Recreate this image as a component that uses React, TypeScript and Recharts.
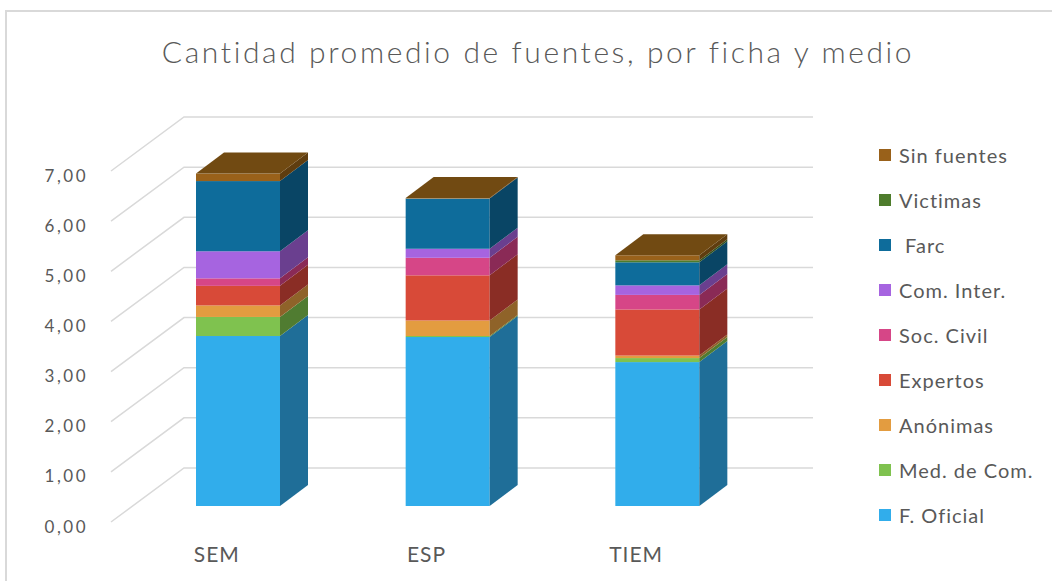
import { Bar, BarChart, CartesianGrid, XAxis, YAxis } from 'recharts'

const CATEGORIES = ['SEM', 'ESP', 'TIEM']
const SERIES_NAMES = [
  'F. Oficial',
  'Med. de Com.',
  'Anónimas',
  'Expertos',
  'Soc. Civil',
  'Com. Inter.',
  ' Farc',
  'Victimas',
  'Sin fuentes',
]
const F_OFICIAL = [3.39, 3.37, 2.87]
const MED_COM = [0.38, 0.02, 0.08]
const ANONIMAS = [0.23, 0.31, 0.05]
const EXPERTOS = [0.39, 0.9, 0.92]
const SOC_CIVIL = [0.15, 0.35, 0.29]
const COM_INTER = [0.54, 0.18, 0.19]
const FARC = [1.4, 1.0, 0.46]
const VICTIMAS = [0, 0, 0.04]
const SIN_FUENTES = [0.15, 0.01, 0.1]
const Y_TICKS = [0, 1, 2, 3, 4, 5, 6, 7]

const SERIES_VALUES = [F_OFICIAL, MED_COM, ANONIMAS, EXPERTOS, SOC_CIVIL, COM_INTER, FARC, VICTIMAS, SIN_FUENTES]

// front face / side face colours, same order as SERIES_NAMES
const FRONT = ['#31ADEB', '#7FC24F', '#E39C40', '#D84A38', '#D64687', '#A664E0', '#0E6C9B', '#4E7C2C', '#99611A']
const SIDE = ['#1F6E98', '#507C31', '#8F6329', '#8A2D25', '#8A2A56', '#6A3F8F', '#094565', '#32501C', '#5F3D0F']
const TOP_FACE = '#714A12'

const GRID = '#d9d9d9'
const TEXT = '#595959'
const FONT = 'Lato, "Open Sans", sans-serif'

// oblique 3D offsets (px)
const BAR_DX = 28
const BAR_DY = 21
const FRONT_DX = 22 // bar front plane -> front of floor
const FRONT_DY = 16
const BACK_DX = 51 // bar front plane -> back wall
const BACK_DY = 38

const W = 1052
const H = 581
const X_AXIS_H = 30
const MARGIN = { top: 155, right: 290, bottom: 45, left: 73 }
const Y_AXIS_W = 60
const PLOT_LEFT = MARGIN.left + Y_AXIS_W
const PLOT_BOTTOM = H - MARGIN.bottom - X_AXIS_H

const data = CATEGORIES.map((name, ci) => {
  const row: Record<string, number | string> = { name }
  SERIES_VALUES.forEach((vals, si) => {
    row[`s${si}`] = vals[ci]
  })
  return row
})

function makeShape(i: number) {
  const isTop = i === SERIES_NAMES.length - 1
  return (props: any) => {
    const { x, y, width, height } = props
    if (width == null || height == null) return <g />
    const r = x + width
    return (
      <g>
        <rect x={x} y={y} width={width} height={height} fill={FRONT[i]} />
        <polygon
          points={`${r},${y + height} ${r},${y} ${r + BAR_DX},${y - BAR_DY} ${r + BAR_DX},${y + height - BAR_DY}`}
          fill={SIDE[i]}
        />
        {isTop && (
          <polygon
            points={`${x},${y} ${x + BAR_DX},${y - BAR_DY} ${r + BAR_DX},${y - BAR_DY} ${r},${y}`}
            fill={TOP_FACE}
          />
        )}
      </g>
    )
  }
}

function renderGridLine(props: any) {
  const { x1, x2, y1, index } = props
  return (
    <polyline
      key={`g${index}`}
      points={`${x1 - FRONT_DX},${y1 + FRONT_DY} ${x1 + BACK_DX},${y1 - BACK_DY} ${x2 + BACK_DX},${y1 - BACK_DY}`}
      fill="none"
      stroke={GRID}
      strokeWidth={1.5}
    />
  )
}

function renderYTick(props: any) {
  const { y, payload } = props
  const label = Number(payload.value).toFixed(2).replace('.', ',')
  return (
    <text
      x={PLOT_LEFT - 45}
      y={y + FRONT_DY + 4}
      textAnchor="end"
      dominantBaseline="central"
      fontSize={17}
      fontFamily={FONT}
      fill={TEXT}
      letterSpacing={2.5}
    >
      {label}
    </text>
  )
}

function renderXTick(props: any) {
  const { x, payload } = props
  return (
    <text
      x={x - 21}
      y={PLOT_BOTTOM + 47}
      textAnchor="middle"
      dominantBaseline="central"
      fontSize={21}
      fontFamily={FONT}
      fill={TEXT}
      letterSpacing={1}
    >
      {payload.value}
    </text>
  )
}

export default function App() {
  const legendItems = SERIES_NAMES.map((name, i) => ({ name, color: FRONT[i] })).reverse()
  return (
    <div
      style={{
        position: 'absolute',
        left: 0,
        top: 0,
        width: W,
        height: H,
        background: '#fff',
        overflow: 'hidden',
        fontFamily: FONT,
      }}
    >
      <div
        style={{
          position: 'absolute',
          left: 5,
          top: 10,
          width: W,
          height: H,
          border: `2px solid ${GRID}`,
        }}
      />
      <svg style={{ position: 'absolute', left: 0, top: 0 }} width={W} height={90}>
        <text
          x={538}
          y={63}
          textAnchor="middle"
          fontSize={30}
          fontWeight={300}
          fontFamily={FONT}
          fill={TEXT}
          letterSpacing={2.6}
        >
          Cantidad promedio de fuentes, por ficha y medio
        </text>
      </svg>
      <div style={{ position: 'absolute', left: 0, top: 0 }}>
        <BarChart width={W} height={H} data={data} margin={MARGIN}>
          <CartesianGrid horizontal={renderGridLine} vertical={false} />
          <XAxis
            dataKey="name"
            height={X_AXIS_H}
            axisLine={false}
            tickLine={false}
            tick={renderXTick}
          />
          <YAxis
            width={Y_AXIS_W}
            domain={[0, 7]}
            ticks={Y_TICKS}
            axisLine={false}
            tickLine={false}
            tick={renderYTick}
          />
          {SERIES_NAMES.map((name, i) => (
            <Bar
              key={name}
              dataKey={`s${i}`}
              name={name}
              stackId="a"
              barSize={84}
              fill={FRONT[i]}
              shape={makeShape(i)}
              isAnimationActive={false}
            />
          ))}
        </BarChart>
      </div>
      <div style={{ position: 'absolute', left: 879, top: 132 }}>
        {legendItems.map((item) => (
          <div key={item.name} style={{ height: 45, display: 'flex', alignItems: 'center' }}>
            <div style={{ width: 12, height: 12, background: item.color, marginRight: 8 }} />
            <span style={{ fontSize: 20, color: TEXT, whiteSpace: 'pre', letterSpacing: 1 }}>
              {item.name}
            </span>
          </div>
        ))}
      </div>
    </div>
  )
}
